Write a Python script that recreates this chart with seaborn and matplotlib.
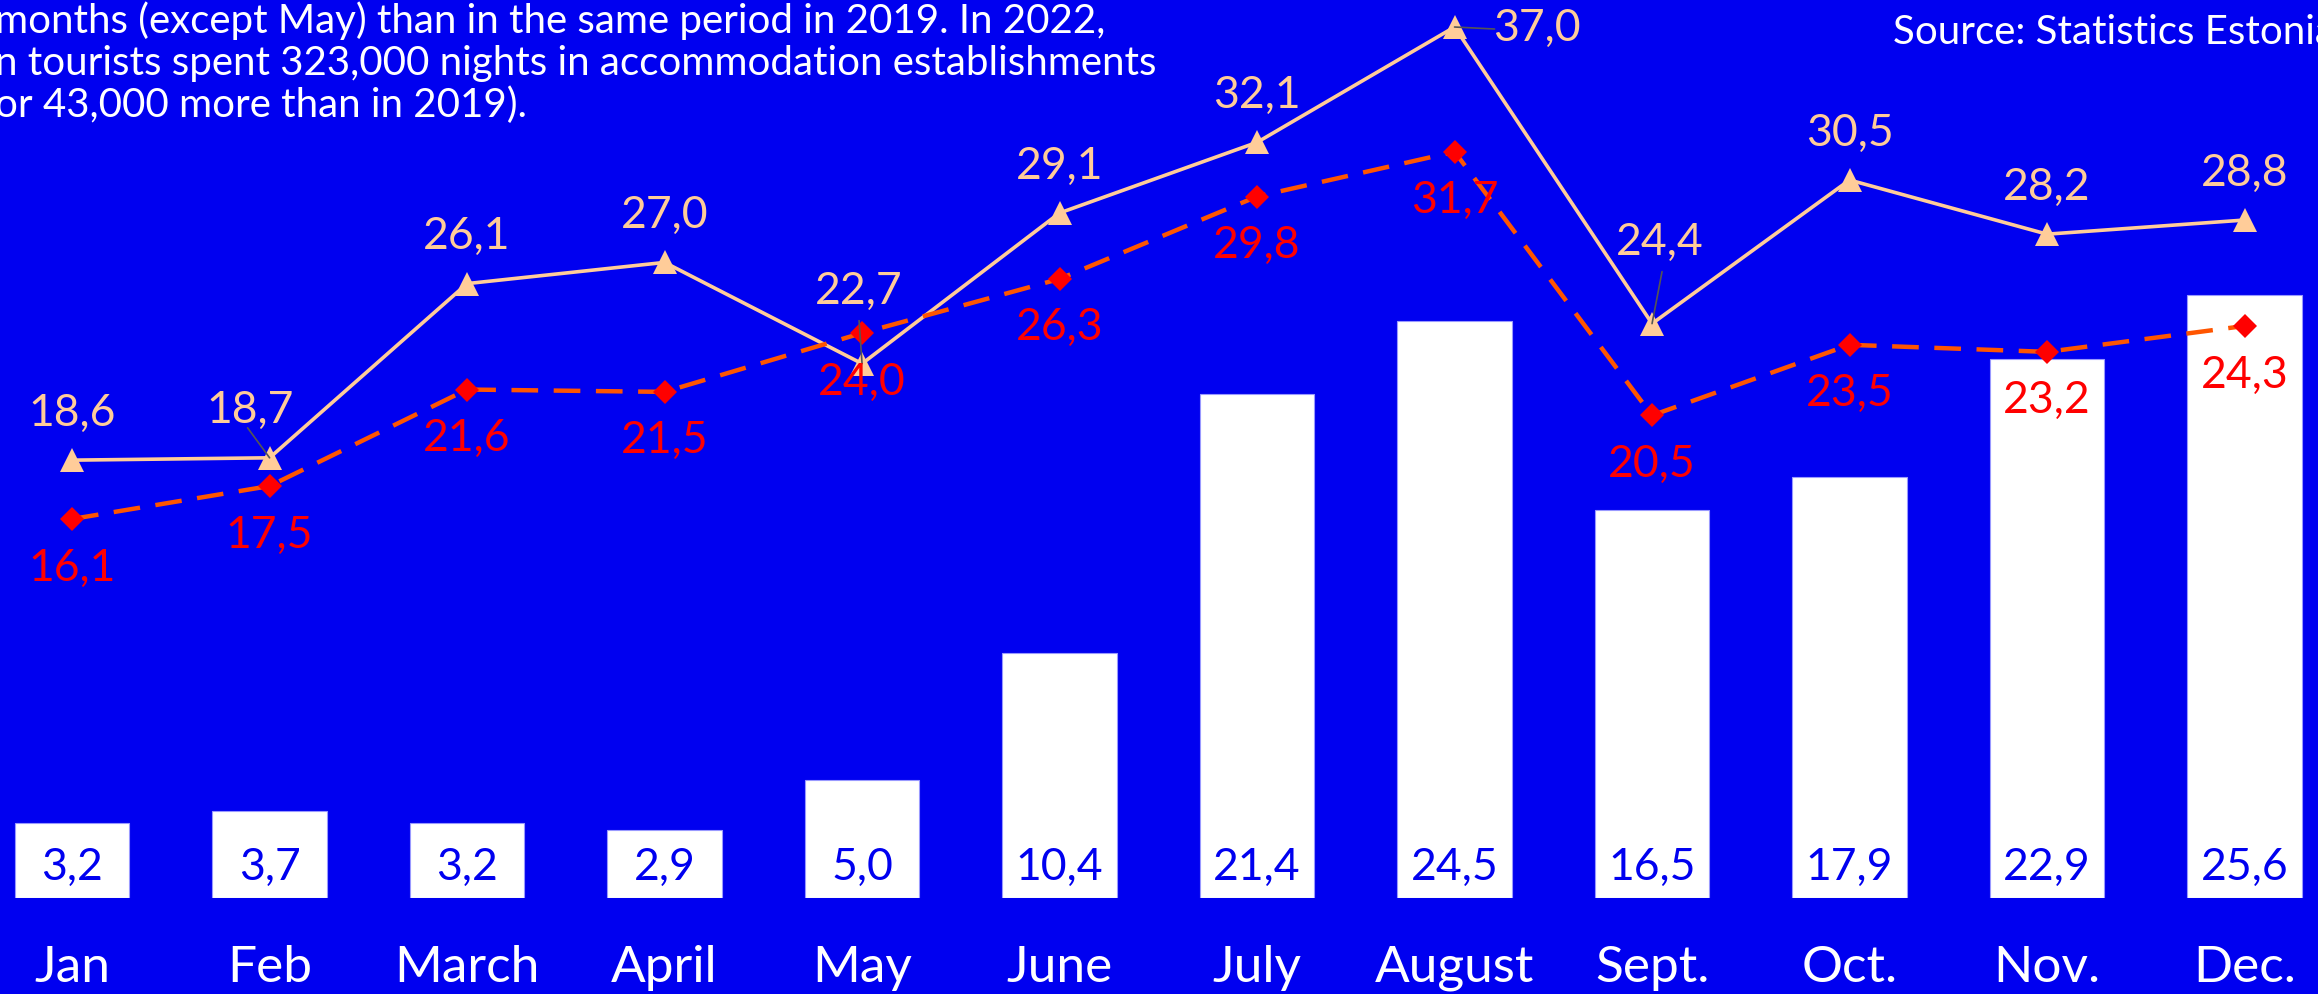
import numpy as np
import matplotlib
matplotlib.use('Agg')
import matplotlib.pyplot as plt
import seaborn as sns

# data
months = ['Jan', 'Feb', 'March', 'April', 'May', 'June', 'July', 'August',
          'Sept.', 'Oct.', 'Nov.', 'Dec.']
bars_2022 = [3.2, 3.7, 3.2, 2.9, 5.0, 10.4, 21.4, 24.5, 16.5, 17.9, 22.9, 25.6]
line_2019 = [18.6, 18.7, 26.1, 27.0, 22.7, 29.1, 32.1, 37.0, 24.4, 30.5, 28.2, 28.8]
line_2021 = [16.1, 17.5, 21.6, 21.5, 24.0, 26.3, 29.8, 31.7, 20.5, 23.5, 23.2, 24.3]

text_lines = ['months (except May) than in the same period in 2019. In 2022,',
              'n tourists spent 323,000 nights in accommodation establishments',
              'or 43,000 more than in 2019).']
source = 'Source: Statistics Estonia'

BG = '#0000F0'
PEACH = '#FFCC99'
RED = '#FF0000'
DASH = '#FF5500'

sns.set_style('white')
plt.rcParams['font.family'] = ['Lato', 'DejaVu Sans']

fig = plt.figure(figsize=(23.18, 9.95), dpi=100)
fig.patch.set_facecolor(BG)
ax = fig.add_axes([0, 96 / 995, 1, 899 / 995])
ax.set_facecolor(BG)

pos = np.arange(len(months))

sns.barplot(x=months, y=bars_2022, color='white', width=0.58, saturation=1,
            edgecolor='#9999ff', linewidth=0.8, ax=ax)

sns.lineplot(x=pos, y=line_2019, color=PEACH, linewidth=2.6, marker='^',
             markersize=17, markeredgewidth=0, markerfacecolor=PEACH, ax=ax)
sns.lineplot(x=pos, y=line_2021, color=DASH, linewidth=3.2, linestyle=(0, (6, 3.5)),
             marker='D', markersize=12, markeredgewidth=0, markerfacecolor=RED, ax=ax)

ax.set_xlim(-0.365, 11.372)
ax.set_ylim(0, 38.19)
ax.set_yticks([])
ax.set_xticks(pos)
ax.set_xticklabels(months, fontsize=37, color='white')
ax.tick_params(axis='x', length=0, pad=33)
ax.set_xlabel('')
for s in ax.spines.values():
    s.set_visible(False)

# bar values
for i, v in enumerate(bars_2022):
    ax.text(i, 1.35, f'{v:.1f}'.replace('.', ','), ha='center', va='center',
            fontsize=32, color=BG)

# line labels (offsets in pixels)
peach_off = {1: (-19, 48), 4: (-3, 73), 7: (82, 0), 8: (8, 82)}
for i, v in enumerate(line_2019):
    dx, dy = peach_off.get(i, (0, 48))
    ax.annotate(f'{v:.1f}'.replace('.', ','), (i, v), xytext=(dx, dy),
                textcoords='offset pixels', ha='center', va='center',
                fontsize=32, color=PEACH)

# thin leader lines
leaders = [(1, (-22, 30)), (4, (-3, 43)), (7, (40, -2)), (8, (10, 52))]
for i, p0 in leaders:
    ax.annotate('', xy=(i, line_2019[i]), xytext=p0, textcoords='offset pixels',
                arrowprops=dict(arrowstyle='-', color='#555555', lw=1.2,
                                shrinkA=0, shrinkB=0))

for i, v in enumerate(line_2021):
    ax.annotate(f'{v:.1f}'.replace('.', ','), (i, v), xytext=(0, -48),
                textcoords='offset pixels', ha='center', va='center',
                fontsize=32, color=RED)

# header text
for k, t in enumerate(text_lines):
    fig.text(-0.002, 1 - (21 + 42 * k) / 995, t, ha='left', va='center',
             fontsize=29, color='white')
fig.text(1893 / 2318, 1 - 33 / 995, source, ha='left', va='center',
         fontsize=29, color='white')

fig.savefig('out.png', dpi=100, facecolor=BG)
